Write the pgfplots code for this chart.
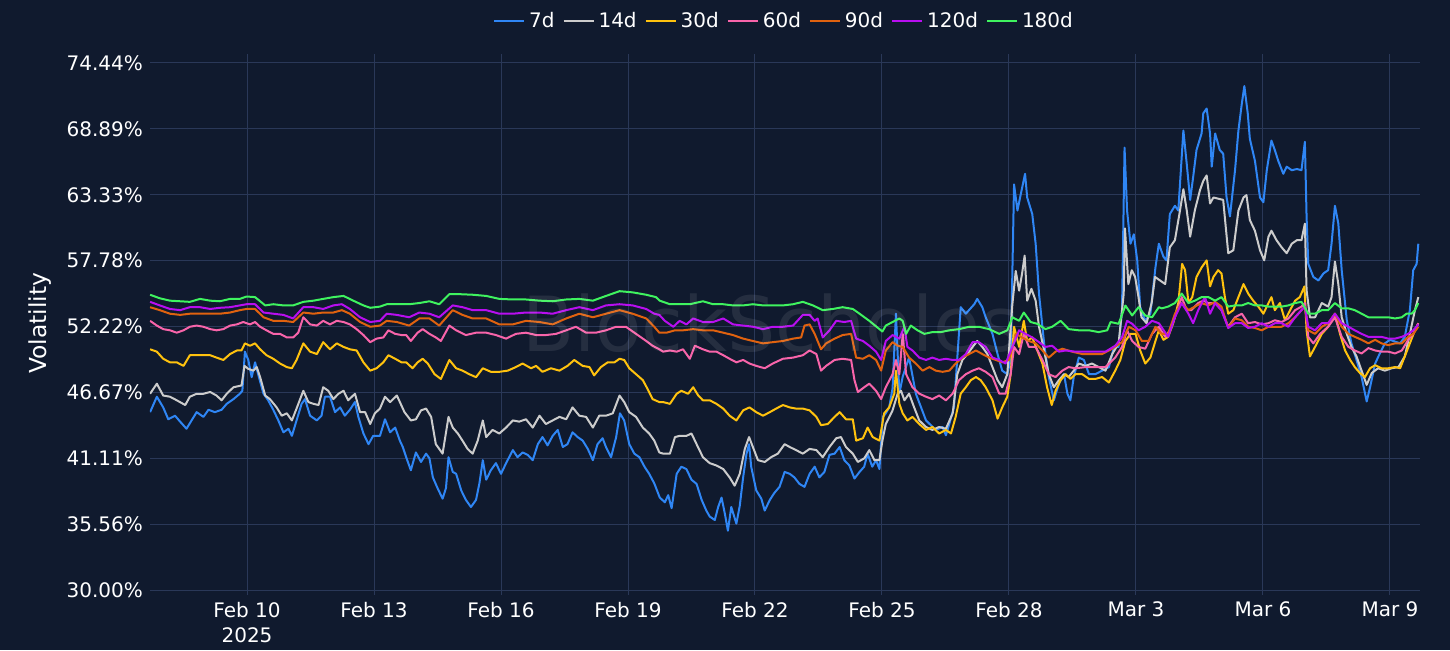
\documentclass[border=0pt]{standalone}
\usepackage{fontspec}
\setmainfont{DejaVu Sans}
\usepackage{pgfplots}
\pgfplotsset{compat=1.18}
\definecolor{bg}{HTML}{101A2E}
\definecolor{gridc}{HTML}{2A3858}
\definecolor{c7}{HTML}{2F86F5}
\definecolor{c14}{HTML}{CCCCCC}
\definecolor{c30}{HTML}{FFC20E}
\definecolor{c60}{HTML}{F864AA}
\definecolor{c90}{HTML}{E0620F}
\definecolor{c120}{HTML}{B80EF0}
\definecolor{c180}{HTML}{3FF35F}
\begin{document}
\begin{tikzpicture}
\fill[bg] (0,0) rectangle (725pt,325pt);
\begin{axis}[
  at={(75pt,27.5pt)}, anchor=south west,
  scale only axis, width=635pt, height=270.5pt,
  xmin=7.708, xmax=37.71, ymin=29.58, ymax=75.2,
  axis line style={draw=none}, tick style={draw=none},
  grid=major, major grid style={color=gridc, line width=0.5pt},
  xtick={10,13,16,19,22,25,28,31,34,37},
  xticklabels={{Feb 10\\2025},Feb 13,Feb 16,Feb 19,Feb 22,Feb 25,Feb 28,Mar 3,Mar 6,Mar 9},
  xticklabel style={align=center, font=\fontsize{10}{12.5}\selectfont, text=white},
  ytick={30,35.5556,41.1111,46.6667,52.2222,57.7778,63.3333,68.8889,74.4444},
  yticklabels={30.00\%,35.56\%,41.11\%,46.67\%,52.22\%,57.78\%,63.33\%,68.89\%,74.44\%},
  yticklabel style={font=\fontsize{10}{12}\selectfont, text=white},
  ylabel={Volatility},
  ylabel style={at={(axis description cs:-0.0866,0.502)}, anchor=center, font=\fontsize{11.7}{14}\selectfont, text=white},
  legend columns=-1,
  legend style={at={(0.5,1.061)}, anchor=center, draw=none, fill=none, text=white,
    font=\fontsize{10}{12}\selectfont,
    /tikz/every even column/.append style={column sep=2pt}},
  legend image code/.code={\draw[#1] (0pt,0pt) -- (15pt,0pt);},
  every axis plot/.append style={line width=1pt, line join=round},
]
\addplot[c7] coordinates {
(7.71,45.0)(7.87,46.3)(8.02,45.4)(8.14,44.4)(8.30,44.7)(8.42,44.2)(8.57,43.6)(8.69,44.3)(8.81,45.0)(8.97,44.6)
(9.09,45.2)(9.24,45.0)(9.40,45.2)(9.52,45.7)(9.68,46.1)(9.83,46.55)(9.89,46.8)(9.95,50.1)(10.03,49.4)(10.11,47.95)
(10.19,49.2)(10.27,48.1)(10.39,46.55)(10.50,46.0)(10.62,45.2)(10.74,44.3)(10.86,43.3)(10.98,43.6)(11.06,43.0)(11.17,44.3)
(11.29,45.7)(11.37,46.1)(11.49,44.7)(11.65,44.3)(11.76,44.7)(11.84,46.3)(11.96,46.3)(12.08,45.0)(12.20,45.4)(12.31,44.7)
(12.43,45.2)(12.55,45.85)(12.63,44.6)(12.75,43.2)(12.87,42.3)(12.98,43.0)(13.14,43.0)(13.26,44.4)(13.38,43.3)(13.50,43.7)
(13.61,42.6)(13.68,42.06)(13.76,41.2)(13.87,40.1)(13.99,41.6)(14.11,40.8)(14.23,41.5)(14.31,41.1)(14.39,39.5)(14.50,38.6)
(14.62,37.7)(14.70,38.6)(14.76,41.2)(14.86,39.96)(14.94,39.8)(15.06,38.4)(15.17,37.6)(15.29,37.0)(15.41,37.6)(15.49,39.0)
(15.57,40.95)(15.65,39.3)(15.76,40.1)(15.88,40.7)(16.00,39.8)(16.12,40.7)(16.28,41.8)(16.39,41.2)(16.51,41.6)(16.63,41.4)
(16.75,40.95)(16.87,42.3)(16.98,42.9)(17.10,42.2)(17.22,43.0)(17.34,43.5)(17.46,42.06)(17.57,42.3)(17.69,43.3)(17.81,42.9)
(17.93,42.6)(18.05,41.9)(18.17,40.95)(18.28,42.3)(18.40,42.8)(18.48,42.06)(18.60,41.2)(18.72,42.9)(18.81,44.9)(18.91,44.3)
(19.03,42.3)(19.15,41.5)(19.27,41.2)(19.39,40.4)(19.50,39.8)(19.62,39.0)(19.75,37.8)(19.87,37.4)(19.95,38.0)(20.03,36.9)
(20.15,39.8)(20.26,40.4)(20.38,40.2)(20.50,39.3)(20.62,38.95)(20.74,37.6)(20.85,36.7)(20.93,36.2)(21.05,35.9)(21.13,37.0)
(21.21,37.8)(21.29,36.4)(21.36,35.0)(21.44,37.0)(21.56,35.6)(21.64,37.1)(21.72,39.5)(21.80,41.5)(21.86,42.3)(21.91,40.4)
(22.03,38.4)(22.15,37.7)(22.23,36.7)(22.35,37.6)(22.46,38.2)(22.58,38.7)(22.70,39.96)(22.82,39.8)(22.93,39.5)(23.05,38.95)
(23.17,38.7)(23.29,39.8)(23.41,40.4)(23.52,39.5)(23.64,39.96)(23.76,41.4)(23.88,41.5)(24.00,42.06)(24.11,40.95)(24.23,40.5)
(24.35,39.4)(24.47,39.96)(24.58,40.4)(24.66,41.5)(24.77,40.4)(24.86,40.95)(24.94,40.2)(25.02,44.6)(25.09,44.9)(25.17,45.4)
(25.25,47.0)(25.33,53.3)(25.41,46.56)(25.49,48.0)(25.64,49.6)(25.80,46.56)(26.04,44.3)(26.27,43.5)(26.43,43.75)(26.51,43.05)
(26.59,44.0)(26.70,45.4)(26.86,53.85)(26.98,53.3)(27.18,54.1)(27.25,54.55)(27.37,53.85)(27.45,53.0)(27.61,51.6)(27.73,49.9)
(27.84,48.5)(27.96,48.2)(28.04,49.4)(28.12,64.2)(28.20,62.0)(28.28,63.4)(28.38,65.1)(28.43,63.1)(28.55,61.7)(28.63,59.2)
(28.71,54.97)(28.83,50.8)(28.94,47.96)(29.06,46.0)(29.18,47.4)(29.30,48.2)(29.38,46.56)(29.45,46.0)(29.53,47.96)(29.65,49.6)
(29.77,49.4)(29.89,48.2)(30.04,48.2)(30.20,48.5)(30.36,48.8)(30.48,50.5)(30.59,50.5)(30.67,53.6)(30.73,67.3)(30.79,61.99)
(30.87,59.2)(30.95,60.0)(31.03,57.78)(31.10,53.85)(31.22,52.7)(31.34,53.3)(31.46,57.2)(31.54,59.2)(31.57,58.9)(31.65,58.1)
(31.72,57.8)(31.80,61.7)(31.92,62.4)(32.00,62.0)(32.12,68.75)(32.20,65.9)(32.28,62.9)(32.35,64.8)(32.43,67.1)(32.55,68.5)
(32.59,70.2)(32.67,70.6)(32.75,68.5)(32.79,65.7)(32.87,68.5)(32.98,67.1)(33.06,66.8)(33.14,63.1)(33.22,61.5)(33.34,65.4)
(33.42,68.75)(33.50,71.0)(33.56,72.5)(33.64,70.2)(33.69,68.05)(33.81,66.2)(33.93,63.1)(34.01,62.7)(34.09,65.4)(34.20,67.9)
(34.28,67.1)(34.36,66.2)(34.48,65.1)(34.56,65.7)(34.68,65.4)(34.80,65.5)(34.91,65.4)(34.99,67.8)(35.03,61.5)(35.07,57.5)
(35.19,56.4)(35.31,56.1)(35.43,56.7)(35.54,56.97)(35.62,59.2)(35.70,62.4)(35.78,60.9)(35.86,56.97)(35.98,52.75)(36.09,50.8)
(36.21,49.4)(36.33,47.96)(36.45,45.9)(36.53,47.1)(36.65,49.1)(36.76,49.95)(36.88,50.8)(37.00,51.1)(37.12,50.95)(37.24,50.8)
(37.35,51.35)(37.47,53.6)(37.55,56.97)(37.63,57.5)(37.67,59.2)
};
\addlegendentry{7d}
\addplot[c14] coordinates {
(7.71,46.55)(7.87,47.4)(8.02,46.4)(8.18,46.3)(8.34,46.0)(8.54,45.6)(8.65,46.3)(8.81,46.55)(8.97,46.55)(9.13,46.7)
(9.28,46.4)(9.40,46.0)(9.52,46.55)(9.68,47.1)(9.87,47.25)(9.94,48.9)(10.03,48.65)(10.15,48.5)(10.23,48.8)(10.31,47.95)
(10.43,46.4)(10.54,46.1)(10.70,45.4)(10.82,44.7)(10.94,44.9)(11.06,44.3)(11.17,45.3)(11.33,46.8)(11.45,45.85)(11.57,45.7)
(11.69,45.6)(11.80,47.1)(11.92,46.8)(12.04,46.1)(12.16,46.55)(12.28,46.8)(12.39,46.0)(12.55,46.55)(12.67,45.0)(12.79,45.0)
(12.91,44.0)(13.02,44.9)(13.14,45.3)(13.26,46.3)(13.38,45.85)(13.54,46.4)(13.72,45.0)(13.87,44.3)(13.99,44.4)(14.11,45.15)
(14.23,45.3)(14.35,44.6)(14.46,42.3)(14.62,41.5)(14.76,44.6)(14.86,43.7)(14.98,43.2)(15.09,42.6)(15.21,41.9)(15.33,41.5)
(15.45,42.6)(15.57,44.3)(15.65,42.9)(15.80,43.5)(15.96,43.2)(16.12,43.7)(16.28,44.3)(16.43,44.2)(16.59,44.4)(16.75,43.7)
(16.91,44.7)(17.06,44.0)(17.22,44.3)(17.38,44.6)(17.54,44.4)(17.69,45.4)(17.85,44.7)(18.01,44.6)(18.17,43.7)(18.32,44.7)
(18.48,44.7)(18.64,44.9)(18.80,46.4)(18.91,45.85)(19.03,45.0)(19.19,44.6)(19.35,43.7)(19.50,43.2)(19.62,42.6)(19.74,41.6)
(19.83,41.5)(19.99,41.5)(20.11,42.9)(20.22,43.0)(20.38,43.0)(20.50,43.2)(20.62,42.3)(20.77,41.2)(20.93,40.7)(21.09,40.5)
(21.25,40.2)(21.40,39.5)(21.52,38.8)(21.64,39.8)(21.76,41.9)(21.86,42.9)(21.95,42.06)(22.07,40.95)(22.23,40.8)(22.38,41.2)
(22.54,41.5)(22.70,42.3)(22.82,42.06)(22.97,41.8)(23.13,41.5)(23.29,41.9)(23.45,41.8)(23.60,41.2)(23.76,42.06)(23.92,42.8)
(24.03,42.9)(24.15,42.06)(24.31,41.5)(24.43,40.8)(24.58,41.1)(24.70,41.8)(24.82,40.95)(24.94,40.95)(25.01,42.6)(25.09,44.0)
(25.25,45.15)(25.37,46.56)(25.45,46.8)(25.53,46.0)(25.64,46.56)(25.76,45.4)(25.88,44.3)(26.04,43.75)(26.19,43.5)(26.35,43.75)
(26.51,43.6)(26.67,44.9)(26.78,48.2)(26.90,49.4)(27.02,49.9)(27.14,50.5)(27.25,51.0)(27.37,50.5)(27.49,49.9)(27.61,48.8)
(27.73,47.7)(27.84,47.1)(27.96,48.2)(28.08,54.1)(28.16,56.9)(28.24,55.25)(28.31,56.7)(28.37,58.2)(28.43,54.4)(28.53,55.4)
(28.63,54.4)(28.71,52.2)(28.83,50.2)(28.94,48.2)(29.06,47.1)(29.18,47.7)(29.30,48.2)(29.41,47.96)(29.53,48.5)(29.65,49.1)
(29.81,48.9)(29.96,49.1)(30.12,48.8)(30.28,48.5)(30.44,49.9)(30.59,50.8)(30.71,54.97)(30.74,60.5)(30.82,55.8)(30.90,56.97)
(30.98,56.4)(31.06,54.7)(31.13,53.0)(31.25,52.5)(31.37,54.2)(31.45,56.4)(31.57,56.1)(31.69,55.8)(31.80,58.9)(31.92,59.5)
(32.04,62.0)(32.12,63.8)(32.20,62.0)(32.28,59.8)(32.39,62.0)(32.51,63.7)(32.59,64.5)(32.67,64.96)(32.75,62.6)(32.83,63.1)
(32.94,63.0)(33.06,62.9)(33.18,58.4)(33.30,58.65)(33.42,62.0)(33.54,63.1)(33.61,63.3)(33.69,61.2)(33.81,60.3)(33.93,58.65)
(34.03,57.8)(34.13,59.8)(34.20,60.3)(34.32,59.5)(34.44,58.9)(34.56,58.4)(34.68,59.2)(34.80,59.5)(34.91,59.5)(34.99,60.9)
(35.03,55.3)(35.11,53.0)(35.23,53.0)(35.39,54.2)(35.54,53.9)(35.62,54.7)(35.70,57.7)(35.78,55.8)(35.86,53.0)(35.98,51.6)
(36.09,50.5)(36.21,49.7)(36.33,48.5)(36.45,47.3)(36.57,48.3)(36.72,48.7)(36.88,48.5)(37.04,48.7)(37.20,48.8)(37.35,49.7)
(37.47,51.6)(37.59,53.6)(37.67,54.7)
};
\addlegendentry{14d}
\addplot[c30] coordinates {
(7.71,50.3)(7.87,50.1)(8.02,49.5)(8.18,49.2)(8.34,49.2)(8.50,48.9)(8.65,49.8)(8.81,49.8)(8.97,49.8)(9.13,49.8)
(9.28,49.6)(9.44,49.4)(9.60,49.9)(9.76,50.2)(9.87,50.2)(9.95,50.8)(10.07,50.6)(10.19,50.8)(10.31,50.3)(10.46,49.8)
(10.62,49.5)(10.78,49.1)(10.94,48.8)(11.06,48.7)(11.17,49.4)(11.33,50.8)(11.49,50.1)(11.65,49.9)(11.80,50.9)(11.96,50.3)
(12.12,50.8)(12.28,50.5)(12.43,50.3)(12.59,50.2)(12.75,49.2)(12.91,48.5)(13.06,48.7)(13.22,49.2)(13.34,49.8)(13.50,49.5)
(13.65,49.2)(13.76,49.2)(13.91,48.7)(14.03,49.2)(14.15,49.5)(14.27,49.1)(14.43,48.2)(14.58,47.8)(14.78,49.4)(14.94,48.7)
(15.09,48.5)(15.25,48.2)(15.41,47.95)(15.57,48.7)(15.76,48.4)(15.96,48.4)(16.16,48.5)(16.35,48.8)(16.51,49.1)(16.71,48.7)
(16.83,48.9)(16.98,48.4)(17.18,48.7)(17.38,48.5)(17.57,48.9)(17.73,49.4)(17.93,48.9)(18.09,48.8)(18.20,48.1)(18.36,48.8)
(18.52,49.2)(18.68,49.2)(18.80,49.5)(18.91,49.4)(19.03,48.7)(19.19,48.2)(19.35,47.7)(19.46,46.97)(19.58,46.1)(19.74,45.85)
(19.83,45.85)(19.99,45.7)(20.15,46.55)(20.26,46.8)(20.42,46.55)(20.54,47.1)(20.66,46.4)(20.77,46.0)(20.93,46.0)(21.09,45.7)
(21.25,45.3)(21.40,44.7)(21.56,44.3)(21.72,45.15)(21.87,45.4)(22.03,45.0)(22.19,44.7)(22.35,45.0)(22.50,45.3)(22.66,45.6)
(22.82,45.4)(22.97,45.3)(23.13,45.3)(23.29,45.15)(23.45,44.6)(23.56,43.9)(23.72,44.0)(23.88,44.6)(24.00,45.0)(24.15,44.4)
(24.31,44.4)(24.39,42.6)(24.55,42.8)(24.66,43.7)(24.78,42.9)(24.94,42.6)(25.05,44.9)(25.17,45.4)(25.29,46.56)(25.33,48.5)
(25.41,45.7)(25.49,44.9)(25.60,44.3)(25.72,44.6)(25.88,44.0)(26.04,43.5)(26.19,43.75)(26.35,43.2)(26.51,43.5)(26.63,43.2)
(26.74,44.6)(26.86,46.56)(26.98,47.1)(27.10,47.7)(27.22,47.96)(27.33,47.7)(27.45,47.1)(27.61,46.0)(27.73,44.45)(27.84,45.4)
(27.96,46.3)(28.04,48.2)(28.12,52.2)(28.24,50.5)(28.35,52.7)(28.43,51.0)(28.55,51.3)(28.67,50.2)(28.79,49.1)(28.90,47.1)
(29.01,45.6)(29.10,46.8)(29.22,47.7)(29.34,48.2)(29.45,47.8)(29.57,48.2)(29.73,48.2)(29.89,47.8)(30.04,47.8)(30.20,47.96)
(30.36,47.5)(30.51,48.5)(30.63,49.4)(30.75,51.0)(30.87,51.6)(30.99,51.6)(31.10,50.2)(31.22,49.1)(31.34,49.6)(31.46,51.0)
(31.54,51.9)(31.65,51.1)(31.76,51.35)(31.88,52.5)(32.00,54.2)(32.09,57.5)(32.16,56.97)(32.24,54.2)(32.33,54.7)(32.43,56.4)
(32.55,57.2)(32.67,57.8)(32.75,55.6)(32.83,56.4)(32.94,56.97)(33.02,56.7)(33.10,54.7)(33.18,53.3)(33.30,53.6)(33.42,54.7)
(33.54,55.8)(33.65,55.0)(33.77,54.4)(33.89,53.9)(34.01,53.3)(34.13,54.2)(34.20,54.7)(34.28,53.6)(34.40,54.2)(34.52,52.75)
(34.64,53.6)(34.76,54.4)(34.87,54.7)(34.98,55.6)(35.03,51.9)(35.11,49.7)(35.23,50.5)(35.39,51.6)(35.54,52.2)(35.70,53.3)
(35.82,51.6)(35.94,50.2)(36.06,49.4)(36.17,48.8)(36.29,48.3)(36.41,47.96)(36.53,48.7)(36.65,48.96)(36.80,48.7)(36.96,48.7)
(37.12,48.8)(37.24,48.7)(37.35,49.7)(37.47,50.8)(37.59,51.9)(37.67,52.5)
};
\addlegendentry{30d}
\addplot[c60] coordinates {
(7.71,52.7)(7.87,52.3)(8.02,52.0)(8.18,51.9)(8.34,51.7)(8.50,51.9)(8.65,52.2)(8.81,52.3)(8.97,52.2)(9.13,52.0)
(9.28,51.9)(9.44,52.0)(9.60,52.3)(9.76,52.4)(9.91,52.6)(10.07,52.4)(10.19,52.6)(10.31,52.2)(10.46,51.9)(10.62,51.6)
(10.78,51.6)(10.94,51.3)(11.09,51.3)(11.21,51.7)(11.33,53.0)(11.49,52.4)(11.65,52.3)(11.80,52.7)(11.96,52.4)(12.12,52.7)
(12.28,52.6)(12.43,52.4)(12.59,52.0)(12.75,51.5)(12.91,50.9)(13.06,51.2)(13.22,51.3)(13.34,51.9)(13.50,51.6)(13.65,51.5)
(13.76,51.5)(13.87,51.0)(14.03,51.7)(14.15,52.0)(14.31,51.6)(14.46,51.3)(14.58,51.0)(14.78,52.3)(14.94,51.9)(15.17,51.5)
(15.41,51.7)(15.65,51.7)(15.88,51.5)(16.12,51.2)(16.35,51.6)(16.59,51.7)(16.83,51.5)(17.06,51.5)(17.30,51.6)(17.54,51.9)
(17.77,52.2)(18.01,51.7)(18.24,51.7)(18.48,51.9)(18.72,52.2)(18.95,52.2)(19.19,51.6)(19.43,51.0)(19.58,50.6)(19.74,50.3)
(19.83,50.1)(19.99,50.2)(20.15,50.1)(20.30,50.3)(20.46,49.5)(20.58,50.6)(20.77,50.3)(20.93,50.1)(21.09,50.1)(21.25,49.8)
(21.40,49.5)(21.56,49.2)(21.72,49.4)(21.87,49.1)(22.03,48.9)(22.23,48.7)(22.42,49.1)(22.66,49.5)(22.90,49.6)(23.13,49.8)
(23.29,50.2)(23.45,49.9)(23.56,48.5)(23.68,48.9)(23.88,49.4)(24.07,49.5)(24.27,49.4)(24.35,47.7)(24.43,46.7)(24.58,47.1)
(24.70,47.4)(24.86,46.8)(24.98,46.1)(25.09,47.1)(25.25,48.2)(25.33,49.4)(25.41,48.2)(25.49,51.6)(25.57,48.2)(25.72,47.1)
(25.88,46.56)(26.04,46.3)(26.19,46.1)(26.35,46.4)(26.51,46.0)(26.67,46.56)(26.82,47.7)(26.98,48.2)(27.14,48.5)(27.29,48.7)
(27.45,48.4)(27.61,47.96)(27.77,46.56)(27.92,46.56)(28.04,48.2)(28.12,50.5)(28.24,49.9)(28.35,51.6)(28.47,50.5)(28.63,50.5)
(28.79,49.4)(28.94,48.2)(29.10,47.96)(29.26,48.5)(29.41,48.8)(29.57,48.7)(29.81,48.8)(30.04,48.8)(30.28,48.8)(30.51,49.6)
(30.67,50.5)(30.79,51.9)(30.91,51.0)(31.06,50.5)(31.22,50.35)(31.38,51.6)(31.54,52.2)(31.69,51.35)(31.80,51.9)(31.92,53.0)
(32.08,54.7)(32.20,53.6)(32.31,53.6)(32.47,54.2)(32.59,54.4)(32.71,54.2)(32.87,54.2)(33.02,53.6)(33.18,52.2)(33.34,53.0)
(33.50,53.3)(33.65,52.5)(33.81,52.6)(33.97,52.4)(34.13,52.5)(34.28,52.75)(34.44,52.6)(34.60,52.9)(34.76,53.6)(34.91,53.9)
(34.99,54.2)(35.07,51.35)(35.19,50.8)(35.35,51.6)(35.54,52.2)(35.70,53.0)(35.86,51.35)(36.02,50.5)(36.17,50.2)(36.33,49.95)
(36.49,50.4)(36.65,50.2)(36.80,50.1)(36.96,50.1)(37.12,49.95)(37.28,50.2)(37.43,51.1)(37.55,51.6)(37.67,52.5)
};
\addlegendentry{60d}
\addplot[c90] coordinates {
(7.71,53.85)(7.94,53.6)(8.18,53.3)(8.42,53.2)(8.65,53.3)(8.89,53.3)(9.13,53.3)(9.36,53.3)(9.60,53.4)(9.83,53.6)
(9.99,53.7)(10.19,53.7)(10.39,53.0)(10.62,52.7)(10.86,52.7)(11.09,52.6)(11.33,53.4)(11.57,53.3)(11.80,53.4)(12.04,53.4)
(12.24,53.6)(12.43,53.3)(12.67,52.6)(12.91,52.2)(13.14,52.3)(13.30,52.7)(13.54,52.6)(13.83,52.3)(14.07,52.9)(14.31,52.9)
(14.54,52.3)(14.86,53.6)(15.09,53.2)(15.33,52.9)(15.65,52.9)(15.96,52.4)(16.28,52.4)(16.59,52.7)(16.91,52.6)(17.22,52.4)
(17.54,52.9)(17.85,53.3)(18.17,53.0)(18.48,53.3)(18.80,53.6)(19.11,53.3)(19.43,52.9)(19.62,52.2)(19.74,51.7)(19.91,51.7)
(20.11,51.9)(20.30,51.9)(20.54,52.0)(20.77,51.9)(21.01,51.9)(21.25,51.7)(21.48,51.5)(21.72,51.2)(21.95,51.0)(22.19,50.8)
(22.42,50.9)(22.66,51.0)(22.90,51.2)(23.09,51.3)(23.17,52.3)(23.29,52.4)(23.41,51.6)(23.56,50.3)(23.68,50.8)(23.88,51.2)
(24.07,51.5)(24.27,51.6)(24.39,49.6)(24.55,49.5)(24.70,49.8)(24.86,49.4)(24.98,48.5)(25.09,50.2)(25.25,50.9)(25.37,50.6)
(25.49,50.5)(25.64,49.6)(25.80,49.1)(25.96,48.5)(26.12,48.8)(26.27,48.5)(26.43,48.4)(26.59,48.5)(26.74,49.1)(26.90,49.6)
(27.06,49.9)(27.22,50.2)(27.37,49.9)(27.53,49.6)(27.69,49.4)(27.84,49.2)(28.00,49.4)(28.16,51.6)(28.31,51.3)(28.47,51.0)
(28.63,50.8)(28.79,50.2)(28.94,49.6)(29.10,50.1)(29.26,50.35)(29.49,50.1)(29.73,49.9)(29.96,49.9)(30.20,49.9)(30.44,50.35)
(30.67,50.9)(30.83,52.2)(30.99,51.9)(31.14,51.0)(31.30,51.0)(31.46,52.2)(31.61,51.6)(31.76,51.6)(31.92,53.3)(32.08,54.2)
(32.24,53.6)(32.39,53.9)(32.55,54.2)(32.71,54.0)(32.87,54.3)(33.02,53.9)(33.18,52.1)(33.34,52.9)(33.50,52.75)(33.65,52.2)
(33.81,52.1)(33.97,51.9)(34.13,52.2)(34.28,52.2)(34.44,52.2)(34.60,52.5)(34.76,53.0)(34.91,53.6)(34.99,53.9)(35.07,51.9)
(35.23,51.6)(35.39,52.2)(35.54,52.5)(35.70,53.3)(35.86,52.2)(36.02,51.6)(36.17,51.35)(36.33,51.1)(36.49,50.8)(36.65,51.1)
(36.80,50.8)(36.96,50.65)(37.12,50.8)(37.28,50.8)(37.43,51.35)(37.55,51.6)(37.67,52.2)
};
\addlegendentry{90d}
\addplot[c120] coordinates {
(7.71,54.3)(7.94,54.0)(8.18,53.7)(8.42,53.6)(8.65,53.85)(8.89,53.85)(9.13,53.7)(9.36,53.8)(9.60,53.85)(9.83,54.0)
(9.99,54.1)(10.19,54.1)(10.39,53.4)(10.62,53.3)(10.86,53.2)(11.09,52.9)(11.33,53.85)(11.57,53.85)(11.80,53.7)(12.04,54.0)
(12.24,54.1)(12.43,53.7)(12.67,53.0)(12.91,52.6)(13.14,52.7)(13.30,53.3)(13.54,53.2)(13.83,53.0)(14.07,53.4)(14.31,53.3)
(14.54,53.0)(14.86,54.0)(15.09,53.85)(15.33,53.6)(15.65,53.6)(15.96,53.3)(16.28,53.3)(16.59,53.4)(16.91,53.4)(17.22,53.3)
(17.54,53.6)(17.85,53.85)(18.17,53.6)(18.48,54.0)(18.80,54.1)(19.11,54.0)(19.43,53.7)(19.62,53.3)(19.74,53.2)(19.87,52.7)
(20.07,52.2)(20.22,52.7)(20.38,52.4)(20.54,52.9)(20.77,52.6)(21.01,52.6)(21.25,52.9)(21.48,52.4)(21.72,52.3)(21.95,52.2)
(22.19,52.0)(22.42,52.2)(22.66,52.2)(22.90,52.3)(23.13,53.2)(23.29,53.2)(23.41,52.7)(23.48,52.9)(23.60,51.3)(23.76,51.9)
(23.92,52.7)(24.11,52.6)(24.27,52.7)(24.39,51.2)(24.55,51.0)(24.70,50.6)(24.86,50.1)(24.98,49.4)(25.09,51.0)(25.25,51.5)
(25.41,51.2)(25.53,52.2)(25.60,50.5)(25.72,50.2)(25.88,49.6)(26.04,49.4)(26.19,49.6)(26.35,49.4)(26.51,49.5)(26.67,49.4)
(26.82,49.4)(26.98,49.9)(27.14,50.9)(27.29,50.9)(27.45,50.5)(27.61,49.6)(27.77,49.4)(27.92,49.1)(28.08,50.5)(28.24,51.9)
(28.39,51.6)(28.55,51.3)(28.71,50.9)(28.86,50.5)(29.02,50.6)(29.18,50.1)(29.34,50.2)(29.57,50.1)(29.81,50.1)(30.04,50.1)
(30.28,50.1)(30.51,50.6)(30.67,51.3)(30.79,52.7)(30.91,52.45)(31.06,51.9)(31.22,52.2)(31.38,52.7)(31.54,52.5)(31.76,51.35)
(31.92,53.0)(32.08,54.2)(32.24,53.3)(32.35,52.5)(32.47,53.6)(32.63,54.7)(32.75,53.3)(32.87,54.2)(33.02,53.6)(33.18,52.1)
(33.34,52.5)(33.50,52.5)(33.65,52.1)(33.81,52.2)(33.97,52.5)(34.13,52.2)(34.28,52.5)(34.44,52.5)(34.60,52.2)(34.76,53.0)
(34.91,53.6)(34.99,53.9)(35.07,52.2)(35.23,51.9)(35.39,52.5)(35.54,52.5)(35.70,53.3)(35.86,52.5)(36.02,52.2)(36.17,51.9)
(36.33,51.6)(36.49,51.35)(36.65,51.35)(36.80,51.35)(36.96,51.2)(37.12,51.2)(37.28,51.35)(37.43,51.6)(37.55,51.9)(37.67,52.4)
};
\addlegendentry{120d}
\addplot[c180] coordinates {
(7.71,54.9)(7.94,54.6)(8.18,54.4)(8.42,54.35)(8.65,54.3)(8.89,54.55)(9.13,54.4)(9.36,54.35)(9.60,54.55)(9.83,54.55)
(9.99,54.75)(10.19,54.7)(10.43,54.0)(10.62,54.1)(10.86,54.0)(11.09,54.0)(11.33,54.3)(11.57,54.4)(11.80,54.55)(12.04,54.7)
(12.28,54.8)(12.51,54.4)(12.75,54.0)(12.91,53.8)(13.14,53.9)(13.30,54.1)(13.54,54.1)(13.83,54.1)(14.07,54.2)(14.31,54.35)
(14.54,54.1)(14.78,54.95)(15.01,54.95)(15.33,54.9)(15.65,54.8)(15.96,54.55)(16.28,54.5)(16.59,54.5)(16.91,54.4)(17.22,54.35)
(17.54,54.5)(17.85,54.55)(18.17,54.4)(18.48,54.8)(18.80,55.2)(19.11,55.1)(19.43,54.9)(19.66,54.7)(19.75,54.4)(19.99,54.1)
(20.22,54.1)(20.46,54.1)(20.77,54.35)(21.01,54.1)(21.25,54.1)(21.48,54.0)(21.72,54.0)(21.95,54.1)(22.19,54.0)(22.42,54.0)
(22.66,54.0)(22.90,54.1)(23.13,54.3)(23.37,54.0)(23.60,53.6)(23.84,53.7)(24.07,53.85)(24.31,53.7)(24.47,53.3)(24.70,52.7)
(24.94,52.0)(25.01,51.8)(25.09,52.3)(25.25,52.6)(25.41,52.9)(25.49,52.7)(25.57,51.6)(25.68,52.3)(25.84,51.9)(26.00,51.6)
(26.19,51.75)(26.39,51.75)(26.59,51.9)(26.82,52.0)(27.06,52.2)(27.29,52.2)(27.53,52.0)(27.77,51.6)(27.96,51.9)(28.08,53.0)
(28.24,52.7)(28.35,53.4)(28.51,52.6)(28.67,52.45)(28.86,52.0)(29.02,52.2)(29.22,52.7)(29.41,52.0)(29.65,51.9)(29.89,51.9)
(30.12,51.75)(30.32,51.9)(30.40,52.6)(30.59,52.45)(30.75,53.99)(30.91,53.15)(31.06,53.85)(31.22,53.15)(31.38,53.0)(31.54,53.85)
(31.61,53.75)(31.76,53.9)(31.92,54.2)(32.08,55.0)(32.24,54.2)(32.39,54.4)(32.55,54.7)(32.71,54.7)(32.87,54.4)(33.02,54.7)
(33.18,53.9)(33.34,54.0)(33.50,54.0)(33.65,54.2)(33.81,54.0)(33.97,54.0)(34.13,53.9)(34.28,53.9)(34.44,53.9)(34.60,54.0)
(34.76,54.2)(34.91,54.3)(35.07,53.3)(35.23,53.3)(35.39,53.6)(35.54,53.6)(35.70,54.2)(35.86,53.75)(36.02,53.75)(36.17,53.6)
(36.33,53.3)(36.49,53.0)(36.65,53.0)(36.80,53.0)(36.96,53.0)(37.12,52.9)(37.28,53.0)(37.39,53.3)(37.51,53.3)(37.59,53.6)
(37.67,54.2)
};
\addlegendentry{180d}
\end{axis}
\node[text=white, opacity=0.09, font=\fontsize{38}{40}\selectfont, inner sep=0pt] at (385.5pt,163.5pt) {BlockScholes};
\pgfresetboundingbox
\path[use as bounding box] (0,0) rectangle (725pt,325pt);
\end{tikzpicture}
\end{document}
